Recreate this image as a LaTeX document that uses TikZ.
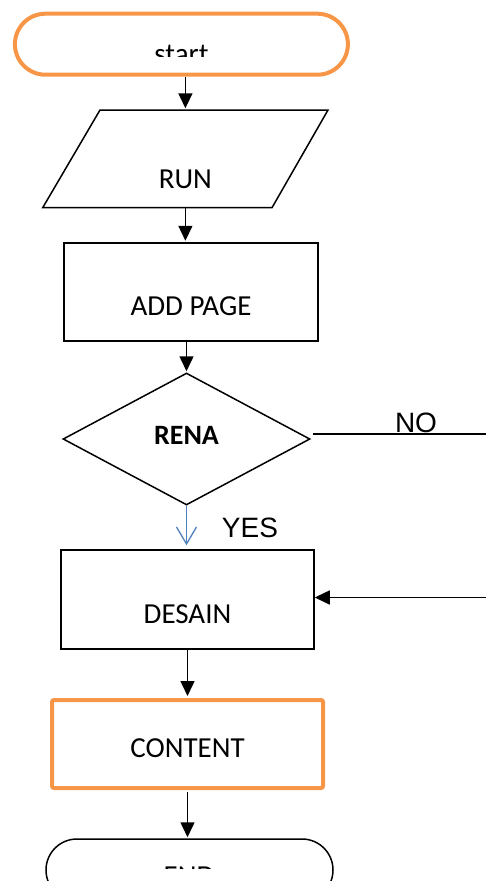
\documentclass[tikz,border=0pt]{standalone}
\usepackage{fontspec}
\setmainfont{Carlito}
\newfontfamily\arialf{Liberation Sans}
\usetikzlibrary{shapes.geometric,arrows.meta}
\definecolor{orng}{HTML}{F79646}
\definecolor{blu}{HTML}{4F81BD}
\begin{document}
\begin{tikzpicture}[x=1pt,y=-1pt,
  every node/.style={font=\fontsize{29}{33}\selectfont, inner sep=0pt},
  box/.style={draw, line width=1.5pt, rectangle},
  obox/.style={draw=orng, line width=4pt, rectangle, rounded corners=2pt},
  term/.style={rectangle, rounded corners=30.5pt, minimum height=61pt},
  arr/.style={-{Triangle[length=15pt,width=14pt]}, line width=1.5pt},
  yarr/.style={-{Straight Barb[length=17pt,width=20pt]}, draw=blu, line width=1.3pt},
]
\useasboundingbox (0,0) rectangle (486,881);
\clip (0,0) rectangle (486,881);

% start terminator
\node[term, draw=orng, line width=4pt, minimum width=333pt] (start) at (181.4,44.2) {};
\begin{scope}
  \clip (0,0) rectangle (486,56);
  \node[anchor=base] (starttxt) at (181.5,63.5) {start};
\end{scope}

% RUN parallelogram
\node[rectangle, minimum width=170pt, minimum height=97.7pt,
      label={[yshift=-20pt]center:RUN}] (run) at (185.4,158.85) {};
\draw[line width=1.5pt] (100,110) -- (328,110) -- (272,207.7) -- (42.7,207.7) -- cycle;

% ADD PAGE
\node[box, minimum width=254pt, minimum height=98pt,
      label={[yshift=-14.5pt]center:ADD PAGE}] (addp) at (191,292) {};

% RENA decision
\node[draw, line width=1.5pt, diamond, minimum width=247pt, minimum height=132pt,
      label={[yshift=3.5pt]center:\fontsize{28}{32}\selectfont\textbf{RENA}}] (rena) at (186.5,439) {};

% DESAIN
\node[box, minimum width=253pt, minimum height=99pt,
      label={[yshift=-14.5pt]center:DESAIN}] (desain) at (187.5,599.5) {};

% CONTENT
\node[obox, minimum width=271pt, minimum height=88pt,
      label={[yshift=-4.5pt]center:CONTENT}] (content) at (187.5,744) {};

% END terminator
\node[term, draw, line width=1.5pt, minimum width=287pt, rounded corners=31pt, minimum height=62pt] (endt) at (189.5,870) {};
\begin{scope}
  \clip (0,0) rectangle (486,868.5);
  \node[anchor=base] (endtxt) at (189,885.5) {END};
\end{scope}

% connectors
\draw[arr, shorten >=1.5pt] (start.south -| run.north) -- (run.north);
\draw[arr, shorten >=1.5pt] (run.south) -- (run.south |- addp.north);
\draw[arr, shorten >=1pt] (addp.south -| rena.north) -- (rena.north);
\draw[yarr, shorten >=4pt] (rena.south) -- (rena.south |- desain.north);
\draw[arr, shorten >=2pt] (desain.south) -- (desain.south |- content.north);
\draw[arr, shorten <=2pt, shorten >=1pt] (content.south) -- (content.south |- endt.north);

\coordinate (noend) at (486,434);
\draw[line width=1.5pt] ([xshift=2pt]rena.east |- noend) -- (noend);
\node[anchor=base, font=\fontsize{28}{32}\selectfont] (nolbl) at (416,432) {\arialf NO};
\node[anchor=base, font=\fontsize{28}{32}\selectfont] (yeslbl) at (250,537) {\arialf YES};

\coordinate (backstart) at (486,597.5);
\draw[arr] (backstart) -- (backstart -| desain.east);
\end{tikzpicture}
\end{document}
